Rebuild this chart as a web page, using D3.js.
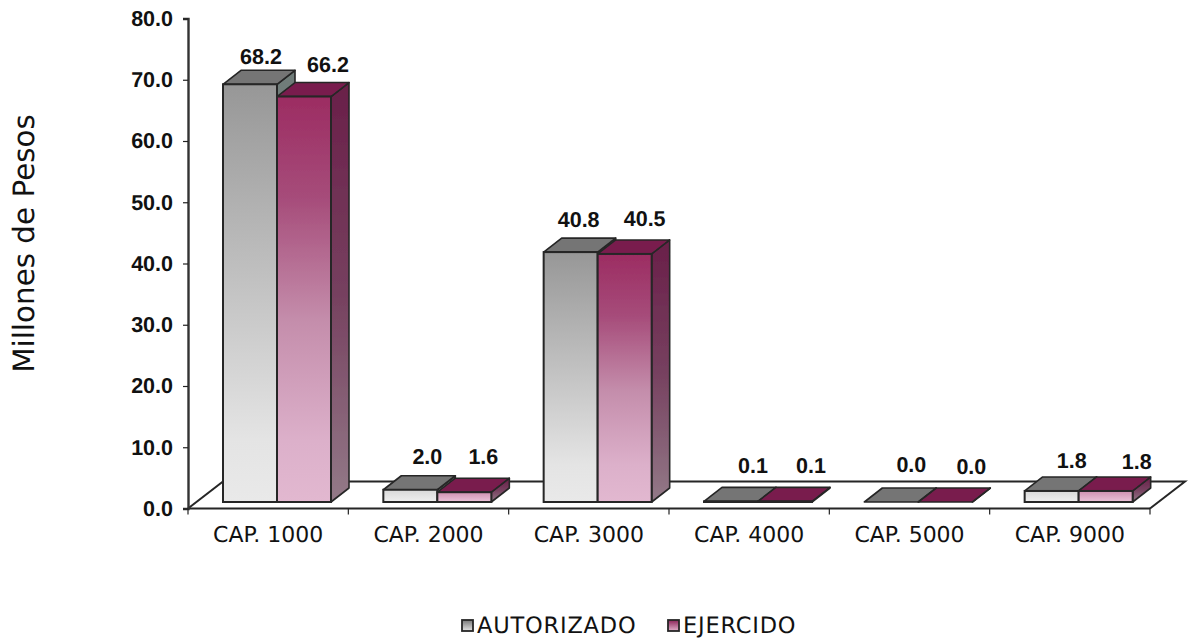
<!DOCTYPE html>
<html><head><meta charset="utf-8">
<script src="https://cdn.jsdelivr.net/npm/d3@7"></script>
<style>
html,body{margin:0;padding:0;background:#fff}
svg{display:block;text-rendering:geometricPrecision}
</style></head><body>
<svg id="c" width="1193" height="640"></svg>
<script>
const categories=["CAP. 1000","CAP. 2000","CAP. 3000","CAP. 4000","CAP. 5000","CAP. 9000"];
const seriesNames=["AUTORIZADO","EJERCIDO"];
const autorizado=[68.2,2.0,40.8,0.1,0.0,1.8];
const ejercido=[66.2,1.6,40.5,0.1,0.0,1.8];
const yTicks=[0,10,20,30,40,50,60,70,80];
const yTitle="Millones de Pesos";

const W=1193,H=640,stroke="#262626";
const svg=d3.select("#c");
const defs=svg.append("defs");
defs.append("filter").attr("id","soft").append("feGaussianBlur").attr("stdDeviation",0.45);
function grad(id,stops){
  const g=defs.append("linearGradient").attr("id",id).attr("x1",0).attr("y1",0).attr("x2",0).attr("y2",1);
  stops.forEach(([o,c])=>g.append("stop").attr("offset",o).attr("stop-color",c));
}
grad("gTall",[[0,"#979797"],[.5,"#c4c4c4"],[.85,"#e4e4e4"],[1,"#e9e9e9"]]);
grad("mTall",[[0,"#9c2c62"],[.25,"#a64c7a"],[.55,"#c48dab"],[.85,"#dcb0ca"],[1,"#e2b8d0"]]);
grad("gShort",[[0,"#d8d8d8"],[1,"#efefef"]]);
grad("mShort",[[0,"#cf8fb0"],[1,"#ecc4da"]]);
grad("gSide",[[0,"#6e7b78"],[1,"#a0a0a0"]]);
grad("mSide",[[0,"#6a1f49"],[.5,"#76405f"],[1,"#937a88"]]);
const lg=(id,a,b)=>grad(id,[[0,a],[1,b]]);
lg("gLeg","#777","#e4e4e4");lg("mLeg","#8a2257","#e0b0cb");

const x=d3.scaleBand().domain(categories).range([188,1150]).padding(0);
const inner=d3.scaleBand().domain(seriesNames).range([35,143]).padding(0);
const yAxisScale=d3.scaleLinear().domain([0,80]).range([508.5,18.5]);
const floorDrop=6.5;               // bars stand this far behind the front floor edge
const y=v=>yAxisScale(v)-floorDrop;
const dx=18,dy=14;                 // 3-D depth of bars
const floorDx=35,floorDy=27;       // 3-D depth of floor

const plot=svg.append("g").attr("filter","url(#soft)");

// floor
const fy=yAxisScale(0),xEnd=x.range()[1],xStart=x.range()[0];
const floor=plot.append("g").attr("fill","none").attr("stroke",stroke).attr("stroke-width",2);
floor.append("path").attr("d",d3.line()([[xStart,fy],[xStart+floorDx,fy-floorDy],[xEnd+floorDx,fy-floorDy],[xEnd,fy]]));
floor.append("path").attr("d",d3.line()([[xStart,fy],[xEnd,fy]]));

// axes
const yAxis=svg.append("g").attr("transform",`translate(${xStart},0)`)
  .call(d3.axisLeft(yAxisScale).tickValues(yTicks).tickSize(5).tickPadding(10).tickFormat(d3.format(".1f")));
yAxis.select(".domain").attr("stroke","#333").attr("stroke-width",2.4);
yAxis.selectAll(".tick line").attr("stroke","#222").attr("stroke-width",1.2);
yAxis.selectAll("text").attr("font-family","'Liberation Sans',Arial,sans-serif").attr("font-weight",700).attr("font-size",21.5).attr("fill","#111");

const xAxis=svg.append("g").attr("transform",`translate(0,${fy})`)
  .call(d3.axisBottom(x).tickSize(0).tickPadding(17.5));
xAxis.select(".domain").remove();
xAxis.selectAll("text").attr("font-family","'DejaVu Sans',sans-serif").attr("font-size",22).attr("fill","#111").attr("dy","0.71em");
const boundaries=categories.map(c=>x(c)).concat([xEnd]);
svg.append("g").selectAll("line").data(boundaries).join("line")
  .attr("x1",d=>d).attr("x2",d=>d).attr("y1",fy).attr("y2",fy+6).attr("stroke","#222").attr("stroke-width",1.2);

// bars
const rows=[{name:seriesNames[0],vals:autorizado,f:"g",top:"#747474"},{name:seriesNames[1],vals:ejercido,f:"m",top:"#791f4e"}];
const labelNudgeX=[[11,17,8,22,20,20],[24,19,20,26,26,31]];
const labelGap=[[6,12,11.5,14,16.5,8.5],[11,14,13.5,14,14.5,7.5]];
rows.forEach((s,si)=>{
  const g=plot.append("g");
  const items=categories.map((c,i)=>({c,i,v:s.vals[i]}));
  const cell=g.selectAll("g").data(items).join("g");
  cell.each(function(d){
    const sel=d3.select(this);
    const x0=x(d.c)+inner(s.name),w=inner.bandwidth(),yt=y(d.v),yb=y(0),h=yb-yt;
    const st=h>30?"Tall":"Short";
    sel.append("path").attr("fill",`url(#${s.f}Side)`).attr("stroke",stroke).attr("stroke-width",1.6).attr("stroke-linejoin","round")
      .attr("d",d3.line()([[x0+w,yt],[x0+w+dx,yt-dy],[x0+w+dx,yb-dy],[x0+w,yb]])+"Z");
    sel.append("path").attr("fill",s.top).attr("stroke",stroke).attr("stroke-width",1.6).attr("stroke-linejoin","round")
      .attr("d",d3.line()([[x0,yt],[x0+dx,yt-dy],[x0+w+dx,yt-dy],[x0+w,yt]])+"Z");
    if(h>0.5) sel.append("rect").attr("x",x0).attr("y",yt).attr("width",w).attr("height",h)
      .attr("fill",`url(#${s.f}${st})`).attr("stroke",stroke).attr("stroke-width",2);
  });
});
// value labels, above everything
rows.forEach((s,si)=>{
  svg.append("g").selectAll("text").data(categories.map((c,i)=>({c,i,v:s.vals[i]}))).join("text")
    .attr("x",d=>x(d.c)+inner(s.name)+inner.bandwidth()/2+labelNudgeX[si][d.i])
    .attr("y",d=>y(d.v)-dy-labelGap[si][d.i])
    .attr("text-anchor","middle").attr("font-family","'Liberation Sans',Arial,sans-serif")
    .attr("font-weight",700).attr("font-size",21.5).attr("fill","#111")
    .text(d=>d.v.toFixed(1));
});

// y title
svg.append("text").attr("transform","translate(34,243.5) rotate(-90)").attr("text-anchor","middle")
  .attr("font-family","'DejaVu Sans',sans-serif").attr("font-size",29.4).attr("fill","#111").text(yTitle);

// legend
const legendX=d3.scaleOrdinal().domain(seriesNames).range([461,667]);
const leg=svg.append("g").selectAll("g").data(rows).join("g").attr("transform",d=>`translate(${legendX(d.name)},619)`);
leg.append("rect").attr("x",1).attr("y",1).attr("width",11).attr("height",11).attr("fill",d=>`url(#${d.f}Leg)`).attr("stroke",stroke).attr("stroke-width",1.8);
leg.append("text").attr("x",16).attr("y",14).attr("font-family","'DejaVu Sans',sans-serif").attr("font-size",22.5).attr("letter-spacing",0.8).attr("fill","#111").text(d=>d.name);
</script>
</body></html>
